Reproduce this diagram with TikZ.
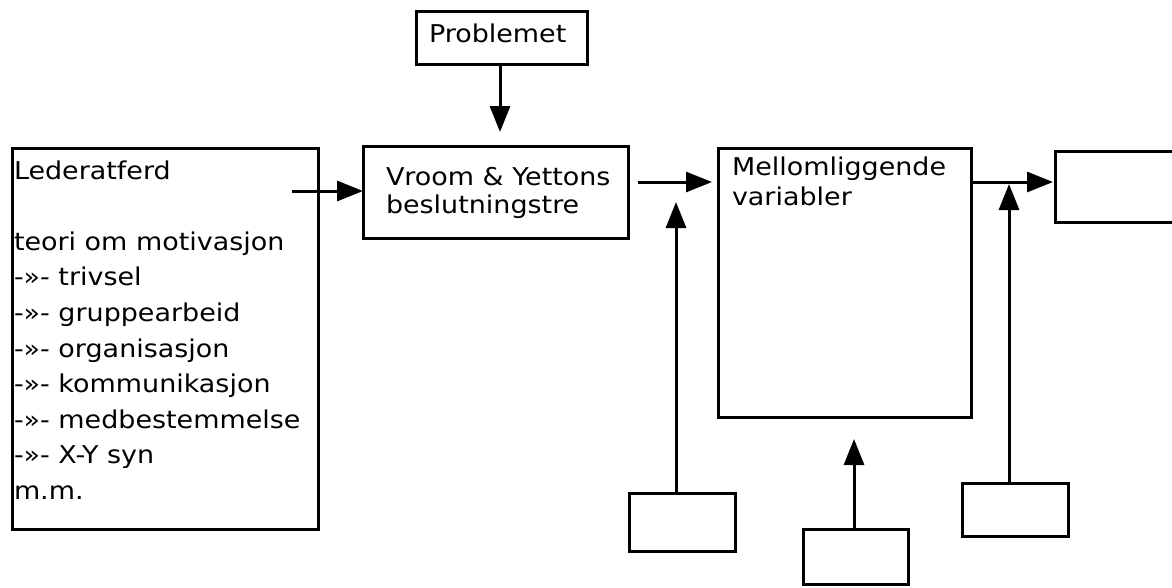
\documentclass[tikz,border=0pt]{standalone}
\usepackage{fontspec}
\newfontfamily\labfont[FakeStretch=1.1]{DejaVu Sans}
\usetikzlibrary{arrows.meta,calc}

% left-aligned block of lines whose baseline is the first line
\newcommand{\linesblock}[1]{\begin{tabular}[t]{@{}l@{}}#1\end{tabular}}

\begin{document}
\begin{tikzpicture}[x=1pt,y=-1pt,
  box/.style={draw, line width=3pt, rectangle, inner sep=0pt, outer sep=0pt, anchor=north west},
  txt/.style={inner sep=0pt, outer sep=0pt, anchor=base west},
  link/.style={line width=3pt, -{Triangle[length=26pt,width=20pt]}}
]
\path[use as bounding box, clip] (0,0) rectangle (1172,587);
\fill[white] (0,0) rectangle (1172,587);

% boxes
\node[box, minimum width=306pt, minimum height=381pt] (lb) at (12,148) {};
\node[box, minimum width=171pt, minimum height=53pt] (pb) at (416,11) {};
\node[box, minimum width=265pt, minimum height=92pt] (vr) at (363,146) {};
\node[box, minimum width=253pt, minimum height=269pt] (mv) at (718,148) {};
\node[box, minimum width=150pt, minimum height=71pt] (rb) at (1055,151) {};
\node[box, minimum width=106pt, minimum height=58pt] (b1) at (629,493) {};
\node[box, minimum width=105pt, minimum height=55pt] (b2) at (803,529) {};
\node[box, minimum width=106pt, minimum height=53pt] (b3) at (962,483) {};

% texts
\node[txt, font=\labfont\fontsize{24.5}{35.6}\selectfont] (lbt) at ($(lb.north west)+(2,31)$)
  {\linesblock{Lederatferd\\ \\teori om motivasjon\\-»- trivsel\\-»- gruppearbeid\\-»- organisasjon\\-»- kommunikasjon\\-»- medbestemmelse\\-»- X-Y syn\\m.m.}};
\node[txt, font=\labfont\fontsize{24.5}{28}\selectfont] (pbt) at ($(pb.north west)+(13,31)$) {Problemet};
\node[txt, font=\labfont\fontsize{24.5}{28}\selectfont] (vrt) at ($(vr.north west)+(23,39)$)
  {\linesblock{Vroom \& Yettons\\beslutningstre}};
\node[txt, font=\labfont\fontsize{24.5}{30}\selectfont] (mvt) at ($(mv.north west)+(14,27)$)
  {\linesblock{Mellomliggende\\variabler}};

% connectors
\coordinate (a1s) at (292,191);
\draw[link] (a1s) -- (a1s -| vr.west);
\coordinate (a2e) at (500,132);
\draw[link] (a2e |- pb.south) -- (a2e);
\coordinate (a3s) at (638,182);
\coordinate (a3e) at (712,182);
\draw[link] (a3s) -- (a3e);
\draw[link] (mv.east |- a3e) -- ($(rb.west |- a3e)+(-2,0)$);
\coordinate (a4e) at (676,202);
\draw[link] (a4e |- b1.north) -- (a4e);
\coordinate (a5e) at (854,439);
\draw[link] (a5e |- b2.north) -- (a5e);
\coordinate (a6e) at (1009,184);
\draw[link] (a6e |- b3.north) -- (a6e);
\end{tikzpicture}
\end{document}
